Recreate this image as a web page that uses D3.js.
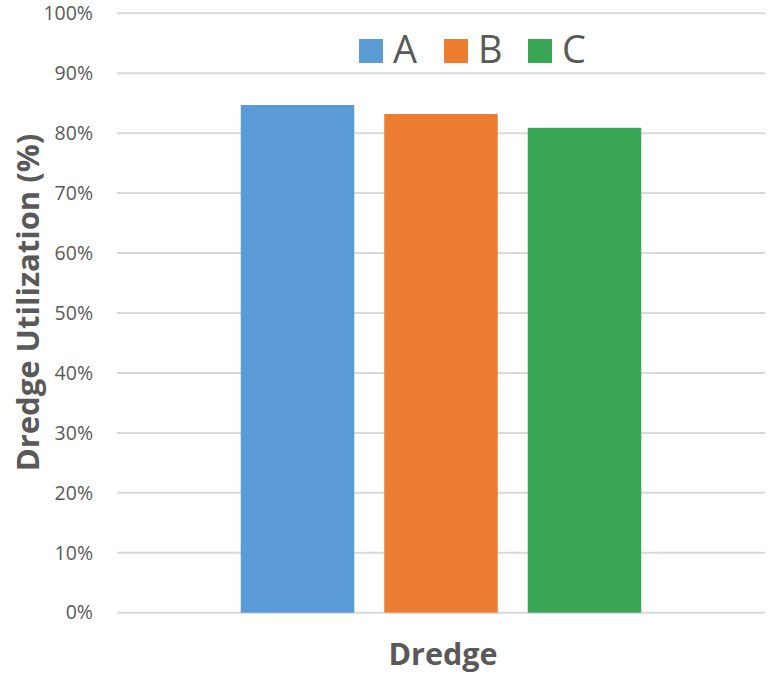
<!DOCTYPE html>
<html>
<head>
<meta charset="utf-8">
<script src="https://cdn.jsdelivr.net/npm/d3@7"></script>
<style>
  html, body { margin: 0; padding: 0; background: #fff; }
  svg { display: block; font-family: "Open Sans", "Noto Sans", sans-serif; }
</style>
</head>
<body>
<svg id="chart" width="769" height="677"></svg>
<script>
// Dredge utilization by dredge type
const categories = ["Dredge"];
const seriesNames = ["A", "B", "C"];
const seriesValues = [84.7, 83.2, 80.9]; // percent
const seriesColors = ["#5b9bd5", "#ed7d31", "#38a655"];
const yTicks = [0, 10, 20, 30, 40, 50, 60, 70, 80, 90, 100];
const yTickLabels = yTicks.map(d => d + "%");

const svg = d3.select("#chart");
const plot = { left: 117, right: 765, top: 13.3, bottom: 612.7 };

const y = d3.scaleLinear().domain([0, 100]).range([plot.bottom, plot.top]);
const x0 = d3.scaleBand().domain(categories).range([plot.left, plot.right])
  .paddingInner(0).paddingOuter(0.309);
const x1 = d3.scaleBand().domain(seriesNames).range([0, x0.bandwidth()])
  .paddingInner(0.209).paddingOuter(0);

// horizontal gridlines
svg.append("g")
  .selectAll("line")
  .data(yTicks)
  .join("line")
  .attr("x1", plot.left).attr("x2", plot.right)
  .attr("y1", d => y(d)).attr("y2", d => y(d))
  .attr("stroke", "#d9d9d9").attr("stroke-width", 2);

// y axis tick labels
const yAxis = d3.axisLeft(y).tickValues(yTicks)
  .tickFormat((d, i) => yTickLabels[i]).tickSize(0).tickPadding(0);
const yAxisG = svg.append("g").attr("transform", `translate(93,0)`).call(yAxis);
yAxisG.select(".domain").remove();
yAxisG.selectAll("text")
  .attr("fill", "#595959")
  .style("font-size", "19.5px")
  .style("font-family", "'Open Sans', sans-serif");

// bars
const groups = svg.append("g")
  .selectAll("g")
  .data(categories)
  .join("g")
  .attr("transform", d => `translate(${x0(d)},0)`);

groups.selectAll("rect")
  .data(() => seriesNames.map((s, i) => ({ s, v: seriesValues[i], c: seriesColors[i] })))
  .join("rect")
  .attr("x", d => x1(d.s))
  .attr("width", x1.bandwidth())
  .attr("y", d => y(d.v))
  .attr("height", d => y(0) - y(d.v))
  .attr("fill", d => d.c);

// x axis title
svg.append("text")
  .attr("x", 443).attr("y", 665)
  .attr("text-anchor", "middle")
  .attr("fill", "#595959")
  .style("font-size", "30.5px").style("font-weight", "bold")
  .text("Dredge");

// y axis title
svg.append("text")
  .attr("transform", "translate(39,302.5) rotate(-90)")
  .attr("text-anchor", "middle")
  .attr("fill", "#595959")
  .style("font-size", "31px").style("font-weight", "bold")
  .text("Dredge Utilization (%)");

// legend
const legendX = [359, 444, 528];
const legend = svg.append("g")
  .selectAll("g")
  .data(seriesNames)
  .join("g")
  .attr("transform", (d, i) => `translate(${legendX[i]},39)`);
legend.append("rect")
  .attr("width", 24).attr("height", 24)
  .attr("fill", (d, i) => seriesColors[i]);
legend.append("text")
  .attr("x", 34).attr("y", 24)
  .attr("fill", "#595959")
  .style("font-size", "38px")
  .text(d => d);
</script>
</body>
</html>
